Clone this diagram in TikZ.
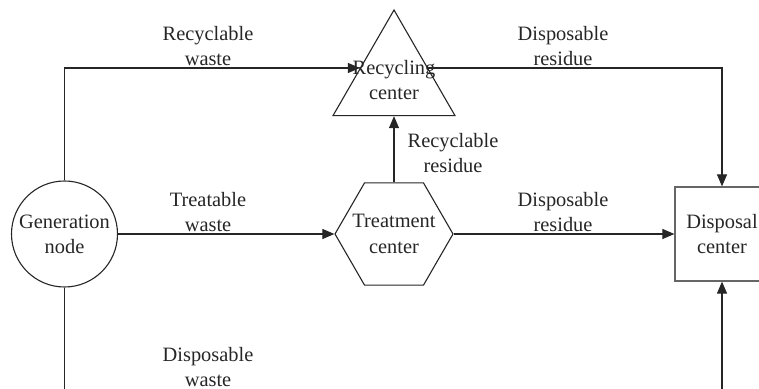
\documentclass[tikz,border=0pt]{standalone}
\usepackage{fontspec}
\setmainfont{Liberation Serif}
\usetikzlibrary{shapes.geometric,arrows.meta}
\begin{document}
\begin{tikzpicture}[x=0.5pt,y=-0.5pt,
  every node/.style={font=\fontsize{10.2}{12.6}\selectfont, text=black!85},
  conn/.style={draw=black!85, line width=0.55pt},
  arr/.style={conn, -{Triangle[length=6pt,width=5pt]}},
  lab/.style={align=center, inner sep=0pt},
  gennode/.style={circle, draw=black!85, line width=0.55pt, minimum size=53pt, inner sep=0pt, align=center},
  recnode/.style={regular polygon, regular polygon sides=3, draw=black!85, line width=0.55pt, minimum size=70.4pt, inner sep=0pt},
  trtnode/.style={regular polygon, regular polygon sides=6, draw=black!85, line width=0.55pt, minimum size=59pt, inner sep=0pt},
  dispnode/.style={rectangle, draw=black!60, line width=0.6pt, minimum width=47pt, minimum height=47pt, inner sep=0pt, align=center}
]
\useasboundingbox (0,0) rectangle (759,389);
\clip (0,0) rectangle (759,389);
\node[gennode] (gen) at (64.5,234) {Generation\\node};
\node[recnode, label={[lab]center:Recycling\\center}] (rec) at (394,80.4) {};
\node[trtnode, label={[lab]center:Treatment\\center}] (trt) at (394,234) {};
\node[dispnode] (disp) at (722,234) {Disposal\\center};
\coordinate (genbot) at (64.5,400);
\coordinate (dispbot) at (722,400);

\draw[arr] (gen.north) |- (rec.160);
\draw[arr] (rec.20) -| (disp.north);
\draw[arr] (trt.north) -- (rec.south);
\draw[arr] (gen.east) -- (trt.west);
\draw[arr] (trt.east) -- (disp.west);
\draw[conn] (gen.south) -- (genbot);
\draw[arr] (dispbot) -- (disp.south);

\node[lab] (l1) at (208,46) {Recyclable\\waste};
\node[lab] (l2) at (563,46) {Disposable\\residue};
\node[lab] (l3) at (453,153) {Recyclable\\residue};
\node[lab] (l4) at (208,212) {Treatable\\waste};
\node[lab] (l5) at (563,212) {Disposable\\residue};
\node[lab] (l6) at (208,367) {Disposable\\waste};
\end{tikzpicture}
\end{document}
